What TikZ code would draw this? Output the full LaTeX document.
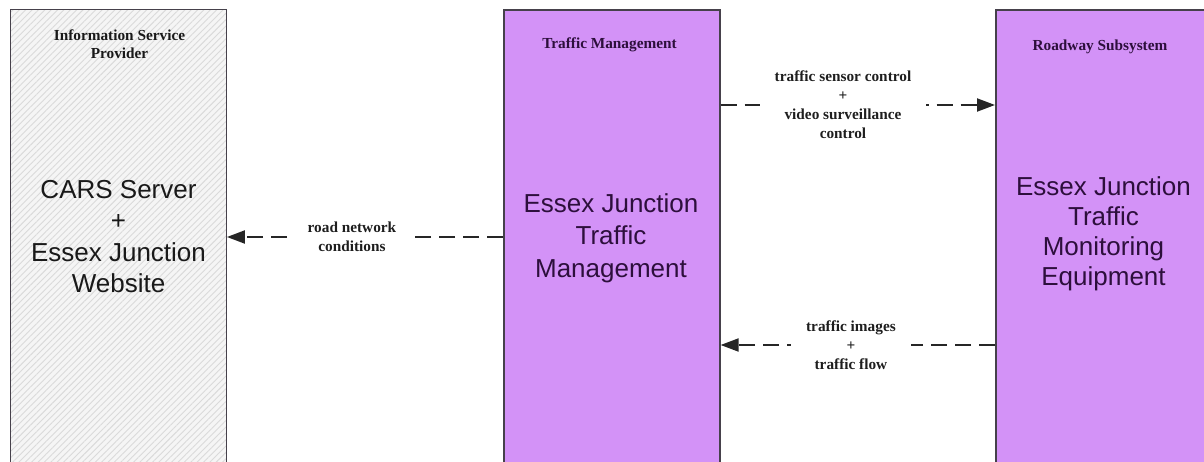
\documentclass[tikz,border=0pt]{standalone}
\usepackage{fontspec}
\setmainfont{Liberation Serif}
\newfontfamily\arialf{Liberation Sans}
\usetikzlibrary{arrows.meta,patterns.meta}

\definecolor{violetfill}{RGB}{211,146,247}
\definecolor{violettext}{RGB}{45,15,60}
\definecolor{boxline}{RGB}{70,65,75}
\definecolor{hatchbg}{RGB}{245,245,245}
\definecolor{hatchline}{RGB}{218,218,218}
\definecolor{lbltext}{RGB}{30,30,30}

\begin{document}
\begin{tikzpicture}[x=1pt,y=-1pt,
  sysbox/.style={draw=boxline,line width=1.6pt,minimum width=216pt,minimum height=471pt,
    inner sep=0pt,anchor=north west},
  hatched/.style={sysbox,preaction={fill=hatchbg},
    pattern={Lines[angle=45,distance=4.5pt,line width=0.9pt]},pattern color=hatchline},
  violetbox/.style={sysbox,fill=violetfill},
  titletext/.style={font=\bfseries\fontsize{15.3}{18}\selectfont,align=center,inner sep=0pt},
  maintext/.style={font=\arialf\fontsize{26}{31.5}\selectfont,align=center,inner sep=0pt},
  flow/.style={draw=black!85,line width=2pt,dash pattern=on 16pt off 8pt,
    -{Triangle[length=18pt,width=13pt]}},
  lbl/.style={fill=white,inner xsep=15pt,inner ysep=2pt,text=lbltext,
    font=\bfseries\fontsize{15.3}{19}\selectfont,align=center}
]
\useasboundingbox (0,0) rectangle (1204,462);
\clip (0,0) rectangle (1204,462);

% system boxes
\node[hatched] (isp) at (10,9) {};
\node[violetbox] (tm) at (503,9) {};
\node[violetbox] (rs) at (995,9) {};

% box titles
\node[titletext,text=black!90] (ispT) at (119.5,44) {Information Service\\Provider};
\node[titletext,text=violettext] (tmT) at (609.5,45) {Traffic Management};
\node[titletext,text=violettext] (rsT) at (1100,47) {Roadway Subsystem};

% box contents
\node[maintext,text=black!90] (ispM) at (118.5,236.5) {CARS Server\\+\\Essex Junction\\Website};
\node[maintext,text=violettext,font=\arialf\fontsize{26}{32.5}\selectfont] (tmM) at (611,238)
  {Essex Junction\\Traffic\\Management};
\node[maintext,text=violettext,font=\arialf\fontsize{26}{30}\selectfont] (rsM) at (1103.5,234)
  {Essex Junction\\Traffic\\Monitoring\\Equipment};

% flow levels
\coordinate (yA) at (0,105);
\coordinate (yB) at (0,237);
\coordinate (yC) at (0,345);

% flows
\draw[flow] (tm.east |- yA) -- node[lbl,pos=0.446]
  {traffic sensor control\\+\\video surveillance\\control} (rs.west |- yA);
\draw[flow] (tm.west |- yB) -- node[lbl,pos=0.547]
  {road network\\conditions} (isp.east |- yB);
\draw[flow] (rs.west |- yC) -- node[lbl,pos=0.525]
  {traffic images\\+\\traffic flow} (tm.east |- yC);
\end{tikzpicture}
\end{document}
